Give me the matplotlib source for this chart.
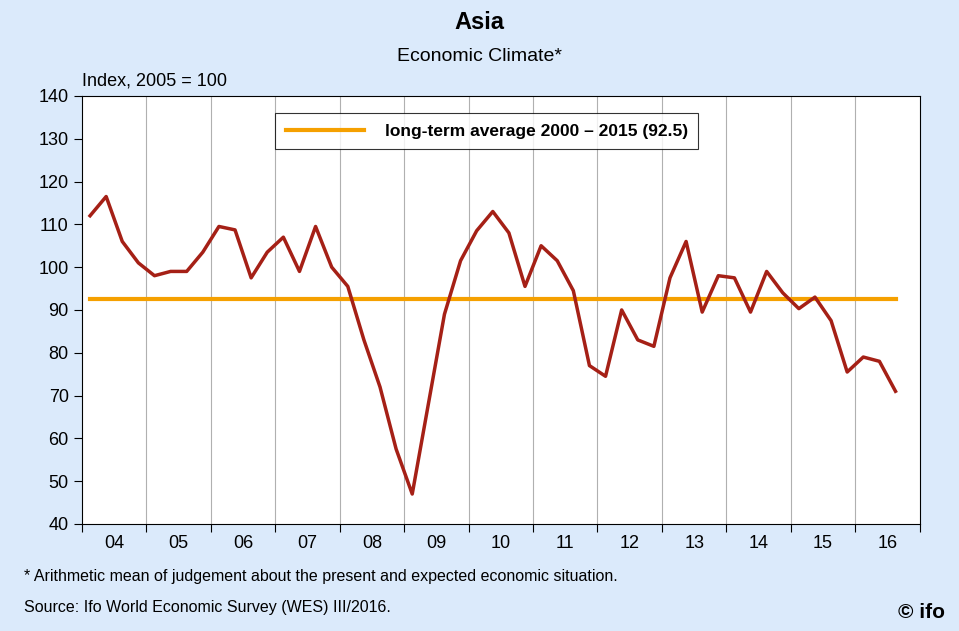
import numpy as np
import matplotlib
matplotlib.use('Agg')
import matplotlib.pyplot as plt

years = list(range(2004, 2017))
year_labels = ['04', '05', '06', '07', '08', '09', '10', '11', '12', '13', '14', '15', '16']
climate = [112, 116.5, 106, 101, 98, 99, 99, 103.5,
           109.5, 108.7, 97.5, 103.5, 107, 99, 109.5, 100,
           95.5, 83, 72, 57.5, 47, 68, 89, 101.5,
           108.5, 113, 108, 95.5, 105, 101.5, 94.5, 77,
           74.5, 90, 83, 81.5, 97.5, 106, 89.5, 98,
           97.5, 89.5, 99, 94, 90.3, 93, 87.5, 75.5,
           79, 78, 71]
long_term_avg = 92.5

x = np.array([2004 + (i + 0.5) / 4 for i in range(len(climate))])

plt.rcParams['font.family'] = ['Liberation Sans', 'DejaVu Sans']
fig = plt.figure(figsize=(9.59, 6.31), dpi=100, facecolor='#dbeafb')
ax = fig.add_axes([0.0855, 0.1696, 0.8735, 0.6784])
ax.set_facecolor('white')

ax.plot([x[0], x[-1]], [long_term_avg] * 2, color='#f5a000', lw=3,
        label='long-term average 2000 – 2015 (92.5)')
ax.plot(x, climate, color='#a52016', lw=2.5)

ax.set_xlim(2004, 2017)
ax.set_ylim(40, 140)
ax.set_yticks(range(40, 141, 10))
ax.set_xticks(range(2004, 2018))
ax.set_xticklabels([])
ax.set_xticks([y + 0.5 for y in years], minor=True)
ax.set_xticklabels(year_labels, minor=True)
ax.tick_params(axis='x', which='minor', length=0, labelsize=13, pad=8)
ax.tick_params(axis='x', which='major', length=6, direction='out')
ax.tick_params(axis='y', labelsize=13, length=6, direction='out')
for yr in range(2005, 2017):
    ax.axvline(yr, color='#b0b0b0', lw=0.8, zorder=0)

leg = ax.legend(loc='upper center', bbox_to_anchor=(0.483, 0.98),
                frameon=True, fancybox=False, edgecolor='black', handlelength=4.5,
                borderpad=0.6, handletextpad=1.2,
                prop={'weight': 'bold', 'size': 12.5})
leg.get_frame().set_linewidth(0.8)

fig.text(0.5, 0.965, 'Asia', ha='center', va='center', fontsize=17, fontweight='bold')
fig.text(0.5, 0.91, 'Economic Climate*', ha='center', va='center', fontsize=14)
fig.text(0.085, 0.872, 'Index, 2005 = 100', ha='left', va='center', fontsize=13)
fig.text(0.025, 0.087, '* Arithmetic mean of judgement about the present and expected economic situation.',
         ha='left', va='center', fontsize=11.5)
fig.text(0.025, 0.038, 'Source: Ifo World Economic Survey (WES) III/2016.',
         ha='left', va='center', fontsize=11.5)
fig.text(0.985, 0.03, '© ifo', ha='right', va='center', fontsize=15, fontweight='bold')

fig.savefig('out.png', dpi=100, facecolor=fig.get_facecolor())
